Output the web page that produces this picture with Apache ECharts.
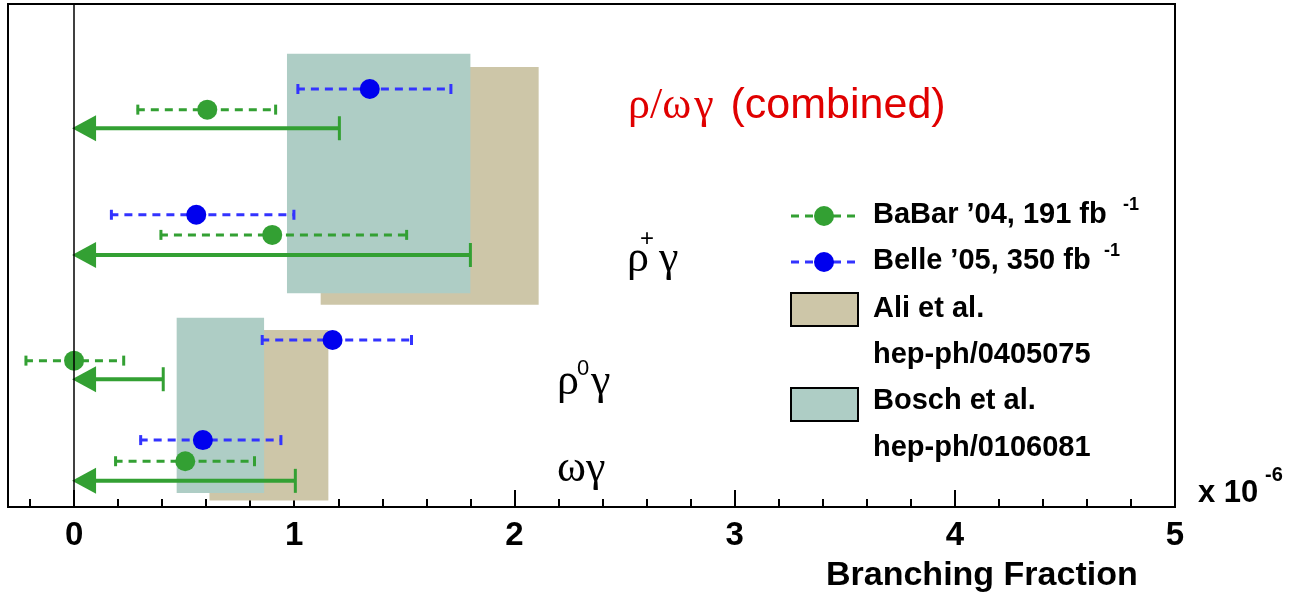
<!DOCTYPE html>
<html><head><meta charset="utf-8">
<script src="https://cdn.jsdelivr.net/npm/echarts@6/dist/echarts.min.js"></script>
<style>html,body{margin:0;padding:0;background:#fff}#c{width:1303px;height:602px}</style>
</head><body><div id="c"></div>
<script>
// ---- data (branching fraction in units of 1e-6) ----
const rowNames = ['ρ/ωγ (combined)', 'ρ+γ', 'ρ0γ', 'ωγ'];
const babarVal = [0.605, 0.90, 0.0, 0.505];
const babarLo  = [0.285, 0.39, -0.223, 0.184];
const babarHi  = [0.92, 1.515, 0.23, 0.824];
const babarULfrom = [0, 0, 0, 0];
const babarUL  = [1.205, 1.80, 0.405, 1.005];
const belleVal = [1.343, 0.555, 1.174, 0.585];
const belleLo  = [1.012, 0.165, 0.85, 0.298];
const belleHi  = [1.716, 1.003, 1.537, 0.944];
// vertical slot of each row (hidden axis, 0 at top .. 10 at bottom)
const bellePos = [1.69, 4.19, 6.68, 8.67];
const babarPos = [2.10, 4.59, 7.09, 9.09];
const ulPos    = [2.47, 4.99, 7.46, 9.48];
// theory bands: [xFrom, xTo, slotFrom, slotTo]
const aliBoxes   = [[1.12, 2.11, 1.25, 5.98], [0.615, 1.155, 6.48, 9.87]];
const boschBoxes = [[0.967, 1.80, 0.99, 5.75], [0.466, 0.863, 6.24, 9.72]];
const xMajorTicks = [0, 1, 2, 3, 4, 5];
const xMinorTicks = [-0.2, 0.2, 0.4, 0.6, 0.8, 1.2, 1.4, 1.6, 1.8, 2.2, 2.4, 2.6, 2.8,
                     3.2, 3.4, 3.6, 3.8, 4.2, 4.4, 4.6, 4.8];

const GREEN = '#33a033', BLUE = '#0000ee', BLUE_DASH = '#3333ff';
const TAN = '#cdc6a8', TEAL = '#aecdc5';
const SANS = '"Liberation Sans", Arial, Helvetica, sans-serif';
const SERIF = '"Liberation Serif", "Times New Roman", serif';

function boxRender(color) {
  return function (params, api) {
    const p0 = api.coord([api.value(0), api.value(2)]);
    const p1 = api.coord([api.value(1), api.value(3)]);
    return { type: 'rect', shape: { x: p0[0], y: p0[1], width: p1[0] - p0[0], height: p1[1] - p0[1] },
             style: { fill: color } };
  };
}
function errRender(color) {
  return function (params, api) {
    const y = api.value(2);
    const a = api.coord([api.value(0), y]);
    const b = api.coord([api.value(1), y]);
    return { type: 'group', children: [
      { type: 'line', shape: { x1: a[0], y1: a[1], x2: b[0], y2: b[1] },
        style: { stroke: color, lineWidth: 3, lineDash: [8, 6] } },
      { type: 'line', shape: { x1: a[0] + 1, y1: a[1] - 5, x2: a[0] + 1, y2: a[1] + 5 }, style: { stroke: color, lineWidth: 3 } },
      { type: 'line', shape: { x1: b[0] - 1, y1: b[1] - 5, x2: b[0] - 1, y2: b[1] + 5 }, style: { stroke: color, lineWidth: 3 } }
    ] };
  };
}
function ulRender(params, api) {
  const y = api.value(2);
  const a = api.coord([api.value(0), y]);
  const b = api.coord([api.value(1), y]);
  return { type: 'group', children: [
    { type: 'line', shape: { x1: a[0] + 10, y1: a[1], x2: b[0], y2: b[1] }, style: { stroke: GREEN, lineWidth: 4 } },
    { type: 'line', shape: { x1: b[0], y1: b[1] - 12, x2: b[0], y2: b[1] + 12 }, style: { stroke: GREEN, lineWidth: 3 } },
    { type: 'polygon', shape: { points: [[a[0] - 2, a[1]], [a[0] + 22, a[1] - 13], [a[0] + 22, a[1] + 13]] },
      style: { fill: GREEN } }
  ] };
}

const gridBox = { left: 8, right: 128, top: 4, bottom: 95 };
const chart = echarts.init(document.getElementById('c'), null, { renderer: 'canvas' });
const option = {
  animation: false,
  backgroundColor: '#fff',
  grid: [
    Object.assign({ show: true, borderColor: '#000', borderWidth: 2, backgroundColor: 'transparent' }, gridBox),
    Object.assign({ show: false }, gridBox)
  ],
  xAxis: [{
    gridIndex: 0, type: 'value', min: -0.3, max: 5, position: 'bottom',
    axisLine: { show: true, onZero: false, lineStyle: { color: '#000', width: 2 } },
    axisTick: { show: true, inside: true, length: 17, customValues: xMajorTicks, lineStyle: { color: '#000', width: 2 } },
    axisLabel: { customValues: xMajorTicks, fontSize: 33, fontWeight: 'bold', color: '#000', fontFamily: SANS, margin: 12 },
    splitLine: { show: false }
  }, {
    gridIndex: 1, type: 'value', min: -0.3, max: 5, position: 'bottom',
    axisLine: { show: false, onZero: false },
    axisTick: { show: true, inside: true, length: 8, customValues: xMinorTicks, lineStyle: { color: '#000', width: 2 } },
    axisLabel: { show: false },
    splitLine: { show: false }
  }],
  yAxis: [
    { gridIndex: 0, type: 'value', min: 0, max: 10, inverse: true, show: false },
    { gridIndex: 1, type: 'value', min: 0, max: 10, inverse: true, show: false }
  ],
  series: [
    { type: 'custom', name: 'Ali et al.', renderItem: boxRender(TAN), data: aliBoxes, encode: { x: [0, 1], y: [2, 3] }, silent: true, z: 1 },
    { type: 'custom', name: 'Bosch et al.', renderItem: boxRender(TEAL), data: boschBoxes, encode: { x: [0, 1], y: [2, 3] }, silent: true, z: 2 },
    { type: 'custom', name: 'BaBar err', renderItem: errRender(GREEN),
      data: babarLo.map((v, i) => [v, babarHi[i], babarPos[i]]), encode: { x: [0, 1], y: 2 }, z: 3 },
    { type: 'custom', name: 'Belle err', renderItem: errRender(BLUE_DASH),
      data: belleLo.map((v, i) => [v, belleHi[i], bellePos[i]]), encode: { x: [0, 1], y: 2 }, z: 3 },
    { type: 'custom', name: 'BaBar UL', renderItem: ulRender,
      data: babarUL.map((v, i) => [babarULfrom[i], v, ulPos[i]]), encode: { x: [0, 1], y: 2 }, z: 3 },
    { type: 'scatter', name: 'BaBar ’04, 191 fb-1', data: babarVal.map((v, i) => [v, babarPos[i]]),
      symbol: 'circle', symbolSize: 20, itemStyle: { color: GREEN, opacity: 1 }, z: 4,
      markLine: { silent: true, symbol: 'none', label: { show: false }, lineStyle: { color: '#000', width: 1.5, type: 'solid' },
                  data: [{ xAxis: 0 }] } },
    { type: 'scatter', name: 'Belle ’05, 350 fb-1', data: belleVal.map((v, i) => [v, bellePos[i]]),
      symbol: 'circle', symbolSize: 20, itemStyle: { color: BLUE, opacity: 1 }, z: 4 }
  ],
  graphic: [
    // row labels
    { type: 'text', left: 628, top: 84, style: { rich: {
        g: { fontFamily: SERIF, fontSize: 44, fill: '#e00000' },
        g2: { fontFamily: SERIF, fontSize: 44, fill: '#e00000', padding: [0, 0, 0, 3] },
        s: { fontFamily: SANS, fontSize: 43, fill: '#e00000', padding: [0, 0, 0, 5] } },
        text: '{g|ρ/ω}{g2|γ}{s| (combined)}' } },
    { type: 'text', left: 627, top: 237, style: { text: 'ρ', font: '44px ' + SERIF, fill: '#000' } },
    { type: 'text', left: 640, top: 227, style: { text: '+', font: '24px ' + SANS, fill: '#000' } },
    { type: 'text', left: 659, top: 237, style: { text: 'γ', font: '44px ' + SERIF, fill: '#000' } },
    { type: 'text', left: 557, top: 360, style: { text: 'ρ', font: '44px ' + SERIF, fill: '#000' } },
    { type: 'text', left: 577, top: 358, style: { text: '0', font: '22px ' + SANS, fill: '#000' } },
    { type: 'text', left: 591, top: 360, style: { text: 'γ', font: '44px ' + SERIF, fill: '#000' } },
    { type: 'text', left: 557, top: 447, style: { text: 'ωγ', font: '44px ' + SERIF, fill: '#000' } },
    // legend
    { type: 'line', shape: { x1: 791, y1: 216, x2: 857, y2: 216 }, style: { stroke: GREEN, lineWidth: 3, lineDash: [8, 6] } },
    { type: 'circle', shape: { cx: 824, cy: 216, r: 10 }, style: { fill: GREEN } },
    { type: 'text', left: 873, top: 200, style: { text: 'BaBar ’04, 191 fb', font: 'bold 29px ' + SANS, fill: '#000' } },
    { type: 'text', left: 1123, top: 196, style: { text: '-1', font: 'bold 18px ' + SANS, fill: '#000' } },
    { type: 'line', shape: { x1: 791, y1: 262, x2: 857, y2: 262 }, style: { stroke: BLUE_DASH, lineWidth: 3, lineDash: [8, 6] } },
    { type: 'circle', shape: { cx: 824, cy: 262, r: 10 }, style: { fill: BLUE } },
    { type: 'text', left: 873, top: 246, style: { text: 'Belle ’05, 350 fb', font: 'bold 29px ' + SANS, fill: '#000' } },
    { type: 'text', left: 1104, top: 242, style: { text: '-1', font: 'bold 18px ' + SANS, fill: '#000' } },
    { type: 'rect', shape: { x: 791, y: 293, width: 67, height: 33 }, style: { fill: TAN, stroke: '#000', lineWidth: 2 } },
    { type: 'text', left: 873, top: 294, style: { text: 'Ali et al.', font: 'bold 29px ' + SANS, fill: '#000' } },
    { type: 'text', left: 873, top: 340, style: { text: 'hep-ph/0405075', font: 'bold 29px ' + SANS, fill: '#000' } },
    { type: 'rect', shape: { x: 791, y: 388, width: 67, height: 33 }, style: { fill: TEAL, stroke: '#000', lineWidth: 2 } },
    { type: 'text', left: 873, top: 386, style: { text: 'Bosch et al.', font: 'bold 29px ' + SANS, fill: '#000' } },
    { type: 'text', left: 873, top: 433, style: { text: 'hep-ph/0106081', font: 'bold 29px ' + SANS, fill: '#000' } },
    // axis title & multiplier
    { type: 'text', left: 1198, top: 478, style: { text: 'x 10', font: 'bold 31px ' + SANS, fill: '#000' } },
    { type: 'text', left: 1265, top: 465, style: { text: '-6', font: 'bold 20px ' + SANS, fill: '#000' } },
    { type: 'text', left: 826, top: 559, style: { text: 'Branching Fraction', font: 'bold 34px ' + SANS, fill: '#000' } }
  ]
};
chart.setOption(option);
</script></body></html>
